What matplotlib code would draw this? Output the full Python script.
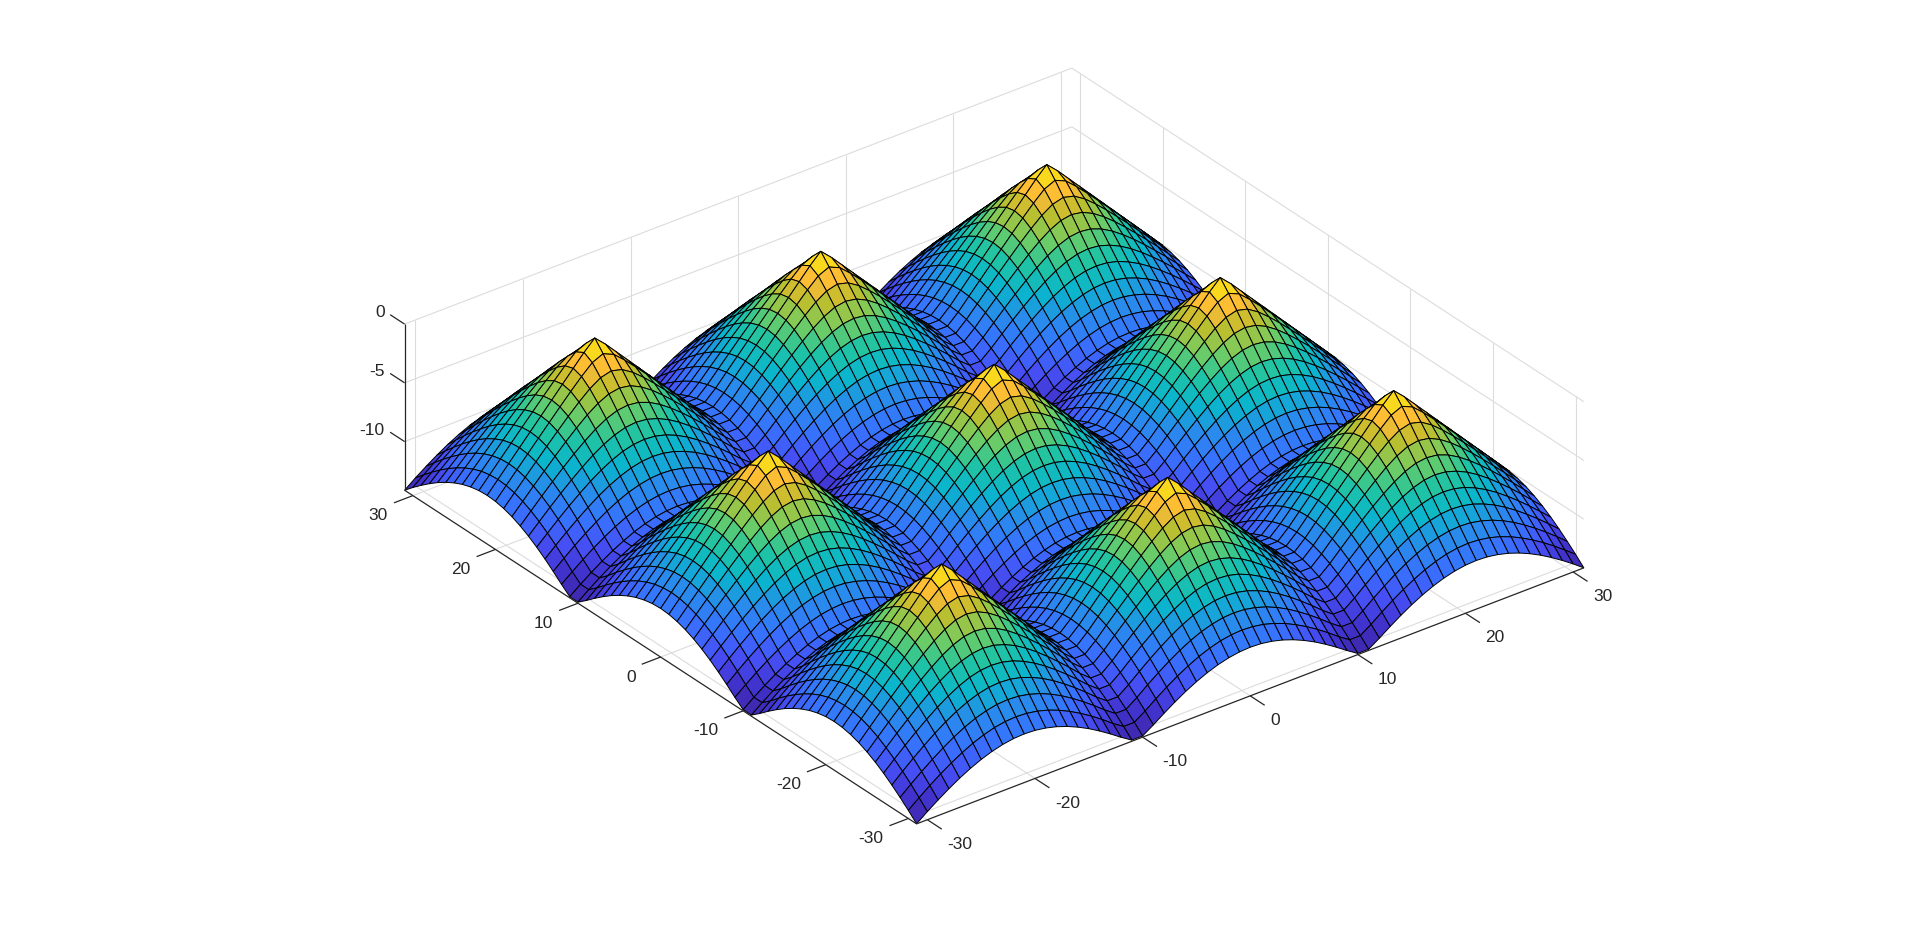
#! /usr/bin/env python

import matplotlib
matplotlib.use('Agg')
import matplotlib.pyplot as plt
import numpy as np
from matplotlib.colors import LinearSegmentedColormap

plt.rcParams['font.family'] = ['Liberation Sans', 'DejaVu Sans']

# axis ticks
x_ticks = [-30, -20, -10, 0, 10, 20, 30]
y_ticks = [-30, -20, -10, 0, 10, 20, 30]
z_ticks = [-10, -5, 0]
axis_lim = 31
z_floor = -14.14

# one quarter of a hump, depth below the top read at unit steps from the peak
# the last row and column are the valley lines between two humps
quarter_depth = np.array([
    [0.12, 1.00, 2.00, 3.00, 4.00, 5.00, 6.00, 7.00, 8.00, 9.00, 10.00, 9.85],
    [1.00, 1.41, 2.24, 3.16, 4.12, 5.10, 6.08, 7.07, 8.06, 9.06, 10.05, 9.90],
    [2.00, 2.24, 2.83, 3.61, 4.47, 5.39, 6.32, 7.28, 8.25, 9.22, 10.20, 10.05],
    [3.00, 3.16, 3.61, 4.24, 5.00, 5.83, 6.71, 7.62, 8.54, 9.49, 10.44, 10.30],
    [4.00, 4.12, 4.47, 5.00, 5.66, 6.40, 7.21, 8.06, 8.94, 9.85, 10.77, 10.63],
    [5.00, 5.10, 5.39, 5.83, 6.40, 7.07, 7.81, 8.60, 9.43, 10.30, 11.18, 11.05],
    [6.00, 6.08, 6.32, 6.71, 7.21, 7.81, 8.49, 9.22, 10.00, 10.82, 11.66, 11.53],
    [7.00, 7.07, 7.28, 7.62, 8.06, 8.60, 9.22, 9.90, 10.63, 11.40, 12.21, 12.08],
    [8.00, 8.06, 8.25, 8.54, 8.94, 9.43, 10.00, 10.63, 11.31, 12.04, 12.81, 12.69],
    [9.00, 9.06, 9.22, 9.49, 9.85, 10.30, 10.82, 11.40, 12.04, 12.73, 13.45, 13.34],
    [10.00, 10.05, 10.20, 10.44, 10.77, 11.18, 11.66, 12.21, 12.81, 13.45, 14.14, 14.04],
    [9.85, 9.90, 10.05, 10.30, 10.63, 11.05, 11.53, 12.08, 12.69, 13.34, 14.04, 14.00],
])

# table row for each grid line, -31 to 31 (peaks at -21, 0, 21)
grid_x = list(range(-31, 32))
peak_steps = [10, 9, 8, 7, 6, 5, 4, 3, 2, 1, 0, 1, 2, 3, 4, 5, 6, 7, 8, 9, 11,
              11, 9, 8, 7, 6, 5, 4, 3, 2, 1, 0, 1, 2, 3, 4, 5, 6, 7, 8, 9, 11,
              11, 9, 8, 7, 6, 5, 4, 3, 2, 1, 0, 1, 2, 3, 4, 5, 6, 7, 8, 9, 10]

# colours sampled from the surface, against height as a fraction of the z range
color_pos = [0.0, 0.1, 0.2, 0.3, 0.4, 0.5, 0.6, 0.7, 0.8, 0.87, 0.94, 1.0]
color_rgb = [(62, 38, 168), (65, 50, 205), (70, 80, 245), (55, 115, 255),
             (40, 140, 235), (10, 180, 205), (30, 195, 165), (110, 205, 100),
             (190, 190, 45), (255, 185, 55), (250, 215, 30), (250, 250, 20)]
parula = LinearSegmentedColormap.from_list(
    'parula', [(p, tuple(c / 255 for c in rgb)) for p, rgb in zip(color_pos, color_rgb)])

GRID = '#dcdcdc'
DARK = '#262626'
FONT = 12.5

X, Y = np.meshgrid(grid_x, grid_x)
Z = -quarter_depth[np.ix_(peak_steps, peak_steps)]

fig = plt.figure(figsize=(19.2, 9.26), dpi=100)
ax = fig.add_axes([172.6 / 1920, -341.6 / 926, 1600 / 1920, 1600 / 926],
                  projection='3d', proj_type='ortho')
ax.computed_zorder = False
ax.view_init(elev=30, azim=-127.5)
ax.set_box_aspect((2 * axis_lim, 2 * axis_lim, -z_floor), zoom=0.731)
ax.set_xlim(-axis_lim, axis_lim)
ax.set_ylim(-axis_lim, axis_lim)
ax.set_zlim(z_floor, 0)
ax.set_axis_off()


def line(xs, ys, zs, color=GRID, lw=0.8, zorder=0):
    ax.plot(xs, ys, zs, color=color, lw=lw, zorder=zorder, solid_capstyle='butt')


# back walls and floor grid
for t in x_ticks:
    line([t, t], [-axis_lim, axis_lim], [z_floor, z_floor])
    line([t, t], [axis_lim, axis_lim], [z_floor, 0])
for t in y_ticks:
    line([-axis_lim, axis_lim], [t, t], [z_floor, z_floor])
    line([axis_lim, axis_lim], [t, t], [z_floor, 0])
for t in z_ticks:
    line([-axis_lim, axis_lim], [axis_lim, axis_lim], [t, t])
    line([axis_lim, axis_lim], [-axis_lim, axis_lim], [t, t])

ax.plot_surface(X, Y, Z, rstride=1, cstride=1, cmap=parula, vmin=z_floor, vmax=0,
                edgecolor='black', linewidth=0.7, shade=False, antialiased=True, zorder=1)

# axis rulers
line([-axis_lim, axis_lim], [-axis_lim, -axis_lim], [z_floor, z_floor], DARK, 0.9, 2)
line([-axis_lim, -axis_lim], [-axis_lim, axis_lim], [z_floor, z_floor], DARK, 0.9, 2)
line([-axis_lim, -axis_lim], [axis_lim, axis_lim], [z_floor, 0], DARK, 0.9, 2)

for t in x_ticks:
    line([t, t], [-axis_lim, -axis_lim - 1.75], [z_floor, z_floor], DARK, 0.9, 2)
    ax.text(t, -axis_lim - 2.4, z_floor - 1.0, str(t), color=DARK, fontsize=FONT,
            ha='left', va='center', zorder=3)
for t in y_ticks:
    line([-axis_lim, -axis_lim - 1.75], [t, t], [z_floor, z_floor], DARK, 0.9, 2)
    ax.text(-axis_lim - 2.3, t, z_floor - 0.9, str(t), color=DARK, fontsize=FONT,
            ha='right', va='center', zorder=3)
for t in z_ticks:
    line([-axis_lim, -axis_lim], [axis_lim, axis_lim + 1.75], [t, t], DARK, 0.9, 2)
    ax.text(-axis_lim, axis_lim + 2.4, t - 0.15, str(t), color=DARK, fontsize=FONT,
            ha='right', va='center', zorder=3)

fig.savefig('out.png', dpi=100)
